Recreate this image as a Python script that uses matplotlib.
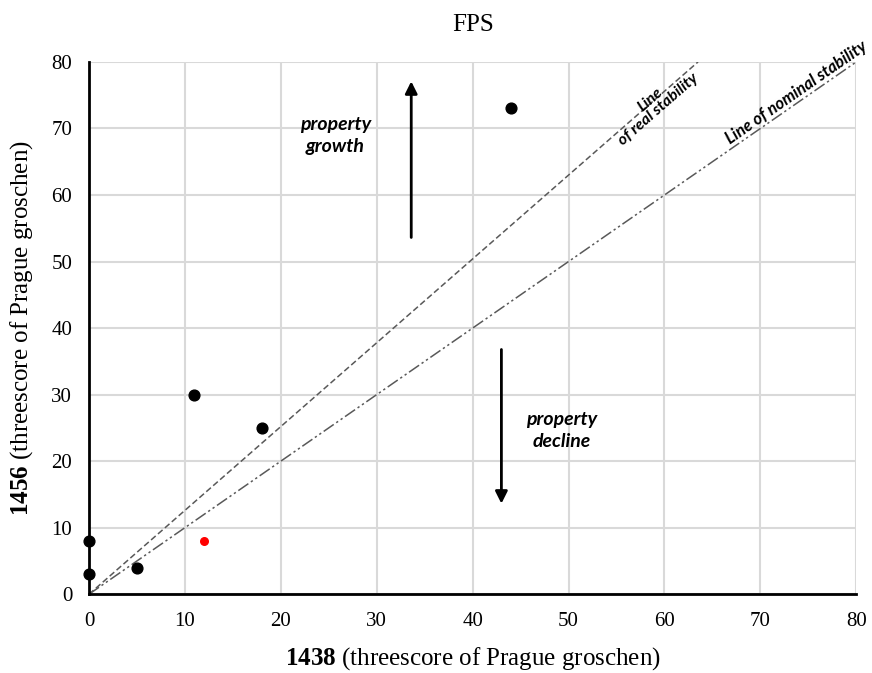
import numpy as np
import matplotlib.pyplot as plt

plt.rcParams['font.family'] = ['Liberation Serif', 'DejaVu Serif']
plt.rcParams['mathtext.fontset'] = 'custom'
plt.rcParams['mathtext.rm'] = 'Liberation Serif'
plt.rcParams['mathtext.bf'] = 'Liberation Serif:bold'

# data
x_1438 = [44, 11, 18, 0, 0, 5]
y_1456 = [73, 30, 25, 8, 3, 4]
red_x = [12]
red_y = [8]

real_line_x = [0, 63.5]
real_line_y = [0, 80]
nominal_line_x = [0, 80]
nominal_line_y = [0, 80]

ticks = [0, 10, 20, 30, 40, 50, 60, 70, 80]

fig = plt.figure(figsize=(8.72, 6.73), dpi=100)
ax = fig.add_axes([0.102, 0.117, 0.88, 0.791])

ax.set_xlim(0, 80)
ax.set_ylim(0, 80)
ax.set_xticks(ticks)
ax.set_yticks(ticks)
ax.grid(True, color='#d9d9d9', linewidth=1.5)
ax.set_axisbelow(True)
ax.tick_params(length=0, labelsize=15)
ax.tick_params(axis='x', pad=13)
ax.tick_params(axis='y', pad=12)

for s in ['top', 'right']:
    ax.spines[s].set_visible(False)
for s in ['left', 'bottom']:
    ax.spines[s].set_linewidth(2)
    ax.spines[s].set_color('black')

# stability lines
ax.plot(real_line_x, real_line_y, color='#595959', linewidth=1.1, linestyle=(0, (4, 2)), zorder=2)
ax.plot(nominal_line_x, nominal_line_y, color='#595959', linewidth=1.1,
        linestyle=(0, (8, 2, 1.5, 2, 1.5, 2)), zorder=2)

# points
ax.scatter(x_1438, y_1456, s=60, color='black', zorder=4, clip_on=False)
ax.scatter(red_x, red_y, s=30, color='red', zorder=4)

# arrows
ax.annotate('', xy=(33.6, 77.5), xytext=(33.6, 53.2),
            arrowprops=dict(arrowstyle='-|>', color='black', lw=2, mutation_scale=18))
ax.annotate('', xy=(43, 13.2), xytext=(43, 37.2),
            arrowprops=dict(arrowstyle='-|>', color='black', lw=2, mutation_scale=18))

ax.text(25.7, 69.0, 'property\ngrowth', ha='center', va='center', fontsize=14,
        fontweight='bold', fontstyle='italic', family='Lato', linespacing=1.35)
ax.text(49.3, 24.6, 'property\ndecline', ha='center', va='center', fontsize=14,
        fontweight='bold', fontstyle='italic', family='Lato', linespacing=1.35)

ax.text(59.9, 72.0, 'Line\nof real stability', ha='center', va='bottom', fontsize=11.5,
        fontweight='bold', fontstyle='italic', family='Lato', linespacing=0.9,
        rotation=np.degrees(np.arctan(80 / 63.5)), rotation_mode='anchor',
        transform_rotates_text=True)
ax.text(74.2, 74.4, 'Line of nominal stability', ha='center', va='bottom', fontsize=12,
        fontweight='bold', fontstyle='italic', family='Lato', clip_on=False,
        rotation=45, rotation_mode='anchor', transform_rotates_text=True)

ax.set_title('FPS', fontsize=18, pad=22)
ax.set_xlabel(r'$\mathbf{1438}$ (threescore of Prague groschen)', fontsize=18, labelpad=10)
ax.set_ylabel(r'$\mathbf{1456}$ (threescore of Prague groschen)', fontsize=18, labelpad=12)

fig.savefig('out.png', dpi=100)
